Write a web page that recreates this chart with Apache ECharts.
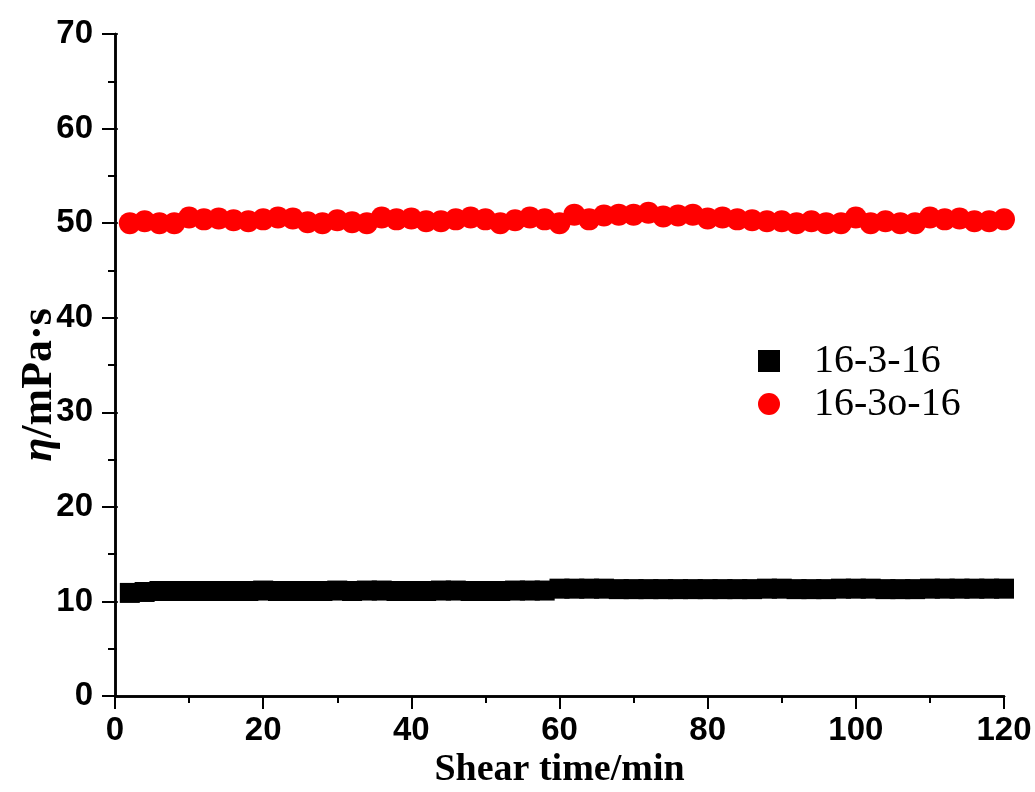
<!DOCTYPE html>
<html>
<head>
<meta charset="utf-8">
<script src="https://cdn.jsdelivr.net/npm/echarts@6/dist/echarts.min.js"></script>
<style>html,body{margin:0;padding:0;background:#fff;}#c{width:1035px;height:792px;}</style>
</head>
<body>
<div id="c"></div>
<script>
// Shear time (min)
const times = [2,4,6,8,10,12,14,16,18,20,22,24,26,28,30,32,34,36,38,40,42,44,46,48,50,52,54,56,58,60,
  62,64,66,68,70,72,74,76,78,80,82,84,86,88,90,92,94,96,98,100,102,104,106,108,110,112,114,116,118,120];
// 16-3-16 viscosity (mPa·s)
const visc16316 = [10.9,11.0,11.1,11.1,11.1,11.1,11.1,11.1,11.1,11.15,11.1,11.1,11.1,11.1,11.15,11.1,11.15,11.15,11.1,11.1,
  11.1,11.15,11.15,11.1,11.1,11.1,11.15,11.15,11.15,11.35,11.35,11.35,11.35,11.3,11.3,11.3,11.3,11.3,11.3,11.3,
  11.3,11.3,11.3,11.35,11.35,11.3,11.3,11.3,11.35,11.35,11.35,11.3,11.3,11.3,11.35,11.35,11.35,11.35,11.35,11.35];
// 16-3o-16 viscosity (mPa·s)
const visc163o16 = [50.0,50.2,50.0,50.0,50.6,50.4,50.5,50.3,50.2,50.4,50.6,50.5,50.1,50.0,50.3,50.1,50.0,50.6,50.4,50.5,
  50.2,50.2,50.4,50.6,50.4,50.0,50.3,50.6,50.4,50.0,50.9,50.4,50.8,50.9,50.9,51.1,50.7,50.8,50.9,50.5,
  50.6,50.4,50.3,50.2,50.2,50.0,50.2,50.0,50.0,50.6,50.0,50.2,50.0,50.0,50.6,50.4,50.5,50.2,50.2,50.4];
const seriesNames = ['16-3-16', '16-3o-16'];

const chart = echarts.init(document.getElementById('c'));
const axisLine = {show: true, lineStyle: {color: '#000', width: 2.5}};
const tickLabel = {color: '#000', fontFamily: 'Liberation Sans', fontWeight: 'bold', fontSize: 33};
chart.setOption({
  animation: false,
  backgroundColor: '#fff',
  grid: {left: 115, right: 31, top: 34, bottom: 96, containLabel: false, outerBoundsMode: 'none'},
  legend: {
    orient: 'vertical', left: 753, top: 336, itemWidth: 22, itemHeight: 22, itemGap: 3,
    textStyle: {fontFamily: 'Liberation Serif', fontSize: 40, color: '#000', lineHeight: 40, padding: [0, 0, 0, 29]},
    data: seriesNames
  },
  xAxis: [{
    type: 'value', min: 0, max: 120, interval: 20,
    name: 'Shear time/min', nameLocation: 'middle', nameGap: 55, nameMoveOverlap: false,
    nameTextStyle: {fontFamily: 'Liberation Serif', fontWeight: 'bold', fontSize: 38, color: '#000'},
    axisLine: axisLine,
    axisTick: {show: true, length: 13, lineStyle: {color: '#000', width: 2}},
    minorTick: {show: true, splitNumber: 2, length: 7, lineStyle: {color: '#000', width: 2}},
    axisLabel: Object.assign({margin: 18}, tickLabel),
    splitLine: {show: false}
  }, {
    type: 'value', position: 'top', min: 0, max: 120, interval: 20,
    axisLine: axisLine, axisTick: {show: false}, axisLabel: {show: false}, splitLine: {show: false}
  }],
  yAxis: [{
    type: 'value', min: 0, max: 70, interval: 10,
    name: '{i|η}/mPa·s', nameLocation: 'middle', nameGap: 53, nameRotate: 90, nameMoveOverlap: false,
    nameTextStyle: {fontFamily: 'Liberation Serif', fontWeight: 'bold', fontSize: 44, color: '#000',
      padding: [0, 40, 0, 0],
      rich: {i: {fontFamily: 'Liberation Serif', fontWeight: 'bold', fontStyle: 'italic', fontSize: 44, color: '#000'}}},
    axisLine: axisLine,
    axisTick: {show: true, length: 13, lineStyle: {color: '#000', width: 2}},
    minorTick: {show: true, splitNumber: 2, length: 7, lineStyle: {color: '#000', width: 2}},
    axisLabel: Object.assign({margin: 22}, tickLabel),
    splitLine: {show: false}
  }, {
    type: 'value', position: 'right', min: 0, max: 70, interval: 10,
    axisLine: axisLine,
    axisTick: {show: true, length: 3, lineStyle: {color: '#000', width: 1.5}},
    minorTick: {show: true, splitNumber: 2, length: 2, lineStyle: {color: '#000', width: 1.5}},
    axisLabel: {show: false}, splitLine: {show: false}
  }],
  series: [{
    name: seriesNames[0], type: 'scatter', symbol: 'rect', symbolSize: 20,
    itemStyle: {color: '#000', opacity: 1},
    data: times.map((t, i) => [t, visc16316[i]])
  }, {
    name: seriesNames[1], type: 'scatter', symbol: 'circle', symbolSize: 22,
    itemStyle: {color: '#ff0000', opacity: 1},
    data: times.map((t, i) => [t, visc163o16[i]])
  }]
});
</script>
</body>
</html>
